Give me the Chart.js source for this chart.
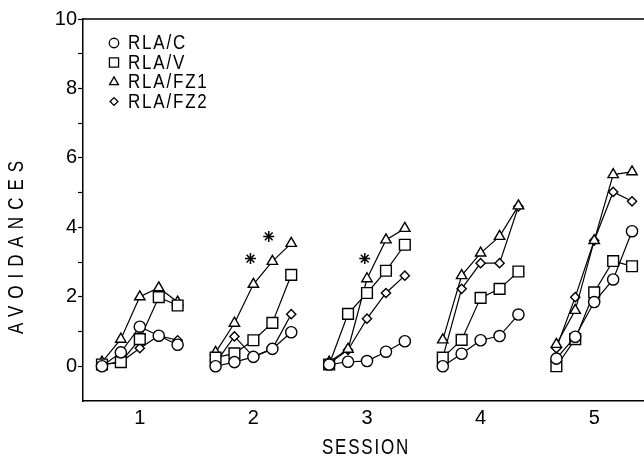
<!DOCTYPE html>
<html>
<head>
<meta charset="utf-8">
<title>Avoidances by session</title>
<script src="https://cdn.jsdelivr.net/npm/chart.js@4/dist/chart.umd.min.js"></script>
<style>
  html, body { margin: 0; padding: 0; background: #fff; overflow: hidden; }
  #chart { display: block; }
</style>
</head>
<body>
<canvas id="chart" width="660" height="458"></canvas>
<script>
// Sessions and the 5 blocks inside each session (offset from session tick)
const sessions = [1, 2, 3, 4, 5];
const blockOffsets = [-0.333, -0.167, 0, 0.167, 0.333];
const yTicks = [0, 1, 2, 3, 4, 5, 6, 7, 8, 9, 10];

// Mean avoidances, 5 blocks per session, sessions 1..5 in order
const rlaC = [
  0.00, 0.40, 1.14, 0.88, 0.62,
  0.00, 0.12, 0.27, 0.50, 0.98,
  0.05, 0.13, 0.15, 0.42, 0.72,
  0.00, 0.36, 0.75, 0.87, 1.49,
  0.22, 0.85, 1.85, 2.50, 3.89
];
const rlaV = [
  0.05, 0.12, 0.78, 1.99, 1.75,
  0.25, 0.37, 0.75, 1.25, 2.63,
  0.05, 1.51, 2.11, 2.75, 3.50,
  0.25, 0.76, 1.97, 2.23, 2.73,
  0.00, 0.78, 2.13, 3.03, 2.88
];
const rlaFZ1 = [
  0.12, 0.78, 2.00, 2.26, 1.85,
  0.40, 1.24, 2.36, 3.02, 3.54,
  0.12, 0.49, 2.52, 3.64, 3.97,
  0.76, 2.61, 3.26, 3.74, 4.62,
  0.63, 1.61, 3.62, 5.52, 5.60
];
const rlaFZ2 = [
  0.05, 0.12, 0.52, 0.88, 0.75,
  0.10, 0.86, 0.28, 0.50, 1.50,
  0.08, 0.47, 1.37, 2.11, 2.61,
  0.25, 2.23, 2.97, 2.97, 4.60,
  0.52, 1.99, 3.62, 5.02, 4.75
];

// Significance stars
const starX = [1.974, 2.135, 2.98];
const starY = [3.10, 3.74, 3.10];

const seriesNames = ['RLA/C', 'RLA/V', 'RLA/FZ1', 'RLA/FZ2'];
const seriesValues = [rlaC, rlaV, rlaFZ1, rlaFZ2];
const seriesStyles = [
  { pointStyle: 'circle', radius: 5.6 },
  { pointStyle: 'rect', radius: 7.6 },
  { pointStyle: 'triangle', radius: 6 },
  { pointStyle: 'rectRot', radius: 4.6 }
];

const FONT = '"Liberation Sans", Arial, sans-serif';

// build x/y points, with a null point between sessions so lines break
function toPoints(values) {
  const pts = [];
  sessions.forEach((s, si) => {
    blockOffsets.forEach((off, k) => {
      pts.push({ x: s + off, y: values[si * blockOffsets.length + k] });
    });
    pts.push({ x: s + 0.5, y: null });
  });
  return pts;
}

const datasets = seriesValues.map((values, i) => ({
  label: seriesNames[i],
  data: toPoints(values),
  borderColor: '#000',
  borderWidth: 1.2,
  pointStyle: seriesStyles[i].pointStyle,
  pointRadius: seriesStyles[i].radius,
  pointBackgroundColor: '#fff',
  pointBorderColor: '#000',
  pointBorderWidth: 1.4,
  tension: 0,
  spanGaps: false
}));

datasets.push({
  label: 'significant',
  data: starX.map((x, i) => ({ x: x, y: starY[i] })),
  showLine: false,
  pointStyle: 'star',
  pointRadius: 5.5,
  pointBorderColor: '#000',
  pointBorderWidth: 1.5,
  pointBackgroundColor: '#000'
});

// draws text a bit taller than wide, like the plotter lettering
function tallText(ctx, text, x, y, scaleY) {
  ctx.save();
  ctx.translate(x, y);
  ctx.scale(1, scaleY);
  ctx.fillText(text, 0, 0);
  ctx.restore();
}

// frame top line, legend box, axis titles
const decorations = {
  id: 'decorations',
  afterDraw(chart) {
    const ctx = chart.ctx;
    const area = chart.chartArea;
    ctx.save();
    ctx.strokeStyle = '#000';
    ctx.lineWidth = 1.5;
    ctx.beginPath();
    ctx.moveTo(area.left, area.top);
    ctx.lineTo(area.right, area.top);
    ctx.lineTo(area.right, area.bottom);
    ctx.stroke();

    // legend
    ctx.font = '17px ' + FONT;
    ctx.letterSpacing = '1.8px';
    ctx.textBaseline = 'middle';
    ctx.textAlign = 'left';
    const rowsY = [43, 62.5, 82, 101.5];
    seriesNames.forEach((name, i) => {
      ctx.fillStyle = '#fff';
      ctx.strokeStyle = '#000';
      ctx.lineWidth = 1.3;
      Chart.helpers.drawPoint(ctx, {
        pointStyle: seriesStyles[i].pointStyle,
        radius: seriesStyles[i].radius * 0.85,
        rotation: 0,
        borderWidth: 1.3
      }, 114, rowsY[i]);
      ctx.fillStyle = '#000';
      tallText(ctx, name, 128, rowsY[i] + 1, 1.15);
    });

    // axis titles
    ctx.font = '17px ' + FONT;
    ctx.letterSpacing = '1.8px';
    ctx.textAlign = 'center';
    tallText(ctx, 'SESSION', 366, 448, 1.3);
    ctx.letterSpacing = '7px';
    ctx.translate(17, 244);
    ctx.rotate(-Math.PI / 2);
    tallText(ctx, 'AVOIDANCES', 0, 0, 1.3);
    ctx.restore();
  }
};

new Chart(document.getElementById('chart'), {
  type: 'line',
  data: { datasets: datasets },
  options: {
    responsive: false,
    animation: false,
    layout: { padding: { top: 19, right: 9, left: 0, bottom: 0 } },
    plugins: {
      legend: { display: false },
      tooltip: { enabled: false }
    },
    scales: {
      x: {
        type: 'linear',
        min: 0.5,
        max: 5.5,
        afterBuildTicks: (scale) => { scale.ticks = sessions.map(v => ({ value: v })); },
        afterFit: (scale) => { scale.height = 57; },
        grid: { display: false, drawTicks: false },
        border: { display: true, color: '#000', width: 1.5 },
        ticks: { color: '#000', padding: 5, font: { family: FONT, size: 20 } }
      },
      y: {
        type: 'linear',
        min: -1,
        max: 10,
        afterBuildTicks: (scale) => { scale.ticks = yTicks.map(v => ({ value: v })); },
        afterFit: (scale) => { scale.width = 83; },
        grid: {
          display: true,
          drawOnChartArea: false,
          drawTicks: true,
          tickLength: 5,
          tickColor: '#000',
          tickWidth: 1.2
        },
        border: { display: true, color: '#000', width: 1.5 },
        ticks: {
          color: '#000',
          padding: 1,
          font: { family: FONT, size: 20 },
          callback: (v) => (v % 2 === 0 ? String(v) : '')
        }
      }
    }
  },
  plugins: [decorations]
});
</script>
</body>
</html>
